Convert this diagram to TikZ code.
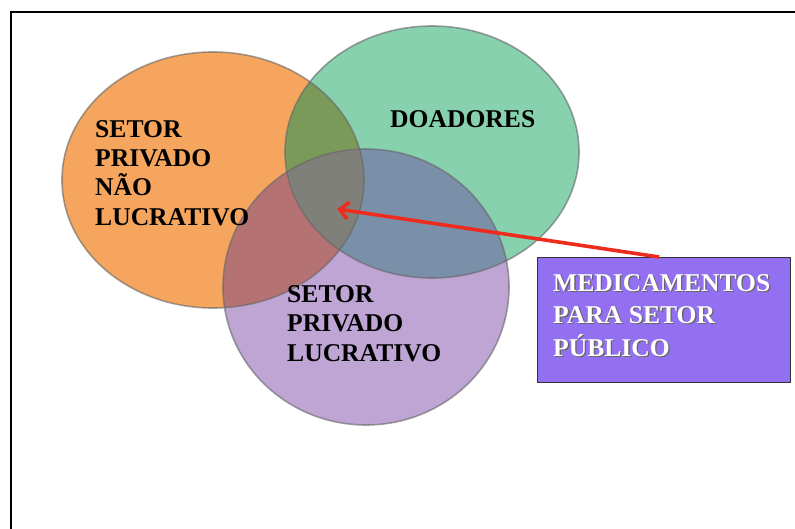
\documentclass[tikz,border=0pt]{standalone}
\usepackage{fontspec}
\setmainfont{Liberation Serif}
\usetikzlibrary{arrows.meta}
\definecolor{cOr}{HTML}{F5A55D}
\definecolor{cGr}{HTML}{88D1AF}
\definecolor{cPu}{HTML}{BEA5D4}
\definecolor{cOG}{HTML}{7A9A5A}
\definecolor{cOP}{HTML}{B57272}
\definecolor{cGP}{HTML}{7A8FA8}
\definecolor{cOGP}{HTML}{80807A}
\definecolor{cBox}{HTML}{9370F2}
\definecolor{cArr}{HTML}{EE2C1E}
\newcommand\shad[1]{\makebox[0pt][l]{\hspace{1.3pt}\raisebox{-1.3pt}{\textcolor{black!60}{#1}}}#1}
\begin{document}
\begin{tikzpicture}[x=1pt,y=-1pt,
  lbl/.style={anchor=north west, inner sep=0pt, align=left, font=\fontsize{25.6}{29.3}\selectfont\bfseries},
  circline/.style={draw=black!60, draw opacity=0.6, line width=1.6pt},
  arrowline/.style={draw=cArr, line width=3.6pt, -{Straight Barb[length=9pt,width=17pt,line width=3.6pt]}},
  framebox/.style={draw=black, line width=2.8pt}]
\useasboundingbox (0,0) rectangle (795,529);
\fill[white] (0,0) rectangle (795,529);
\draw[framebox] (11,531) -- (11,12) -- (797,12);
\def\pOr{(213,180) ellipse [x radius=151pt, y radius=128pt]}
\def\pGr{(432,152) ellipse [x radius=147pt, y radius=126pt]}
\def\pPu{(366,287) ellipse [x radius=143pt, y radius=138pt]}
\fill[cOr] \pOr;
\fill[cGr] \pGr;
\fill[cPu] \pPu;
\begin{scope}\clip \pOr; \fill[cOG] \pGr; \end{scope}
\begin{scope}\clip \pOr; \fill[cOP] \pPu; \end{scope}
\begin{scope}\clip \pGr; \fill[cGP] \pPu; \end{scope}
\begin{scope}\clip \pOr; \clip \pGr; \fill[cOGP] \pPu; \end{scope}
\draw[circline] \pOr;
\draw[circline] \pGr;
\draw[circline] \pPu;
\node[lbl] (npl) at (95,120) {SETOR\\PRIVADO\\NÃO\\LUCRATIVO};
\node[lbl] (doa) at (390,110) {DOADORES};
\node[lbl, font=\fontsize{25.6}{29.5}\selectfont\bfseries] (pl) at (287,285) {SETOR\\PRIVADO\\LUCRATIVO};
\node[draw=black!80, fill=cBox, line width=1.2pt, minimum width=253pt, minimum height=125pt, anchor=north west, inner sep=0pt] (med) at (537,257) {};
\node[lbl, text=white, font=\fontsize{25.6}{32.5}\selectfont\bfseries] (medtxt) at (553,274) {\shad{MEDICAMENTOS}\\\shad{PARA SETOR}\\\shad{PÚBLICO}};
\coordinate (tip) at (337,209);
\draw[arrowline] ([xshift=-5pt]med.north) -- (tip);
\end{tikzpicture}
\end{document}
